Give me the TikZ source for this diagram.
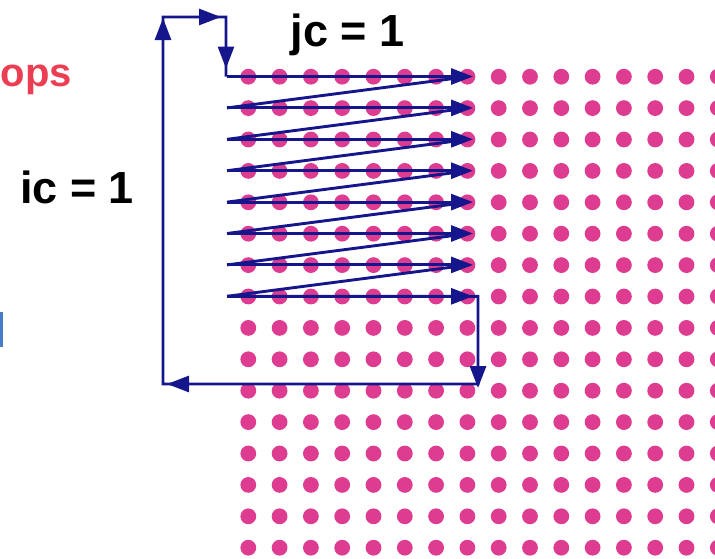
\documentclass[tikz,border=0pt]{standalone}
\usepackage{fontspec}
\setmainfont{Liberation Sans}
\usetikzlibrary{arrows.meta,calc}
\definecolor{dotpink}{RGB}{221,60,145}
\definecolor{navy}{RGB}{22,22,140}
\definecolor{loopred}{RGB}{236,62,82}
\definecolor{textblue}{RGB}{70,125,200}

\begin{document}
\begin{tikzpicture}[x=1pt,y=-1pt,
  trace/.style={draw=navy,line width=2.9pt,line join=miter},
  tip/.style={-{Triangle[length=22pt,width=16pt]}},
  label/.style={font=\bfseries\fontsize{45}{45}\selectfont,inner sep=0pt}]
\useasboundingbox (0,0) rectangle (715,558);

% array elements
\foreach \c in {0,...,15}
  \foreach \r in {0,...,15}
    \fill[dotpink] (248.3+31.3*\c,76.7+31.4*\r) circle (7.9);

% start and end of each traversed row
\foreach \r in {0,...,7} {
  \coordinate (rs\r) at (227,76.5+31.4*\r);
  \coordinate (re\r) at (473,76.5+31.4*\r);
}

% corners of the outer loop
\coordinate (E) at (478,296.3);
\coordinate (F) at (478,384);
\coordinate (A) at (163,384);
\coordinate (B) at (163,17);
\coordinate (C) at (226,17);
\coordinate (D) at (226,76.5);

% inner loop: rows and returns
\foreach \r in {0,...,7}
  \draw[trace,tip] (rs\r) -- (re\r);
\foreach \r [evaluate=\r as \n using int(\r+1)] in {0,...,6}
  \draw[trace] ($(re\r)+(-4,0)$) -- (rs\n);

% outer loop
\draw[trace] (rs7) -- (E) -- (F) -- (A) -- (B) -- (C) -- (D);
\draw[trace,tip] ($(F)+(0,-30)$) -- ($(F)+(0,4)$);
\draw[trace,tip] ($(A)+(30,0)$) -- ($(A)+(4,0)$);
\draw[trace,tip] ($(B)+(0,30)$) -- ($(B)+(0,1)$);
\draw[trace,tip] ($(C)+(-30,0)$) -- ($(C)+(-5,0)$);
\draw[trace,tip] ($(D)+(0,-30)$) -- ($(D)+(0,-8)$);

% labels
\node[label,anchor=base] (jc) at (347.5,46.5) {jc = 1};
\node[label,anchor=base] (ic) at (77,203) {ic = 1};
\node[label,font=\bfseries\fontsize{40}{40}\selectfont,text=loopred,anchor=base east] (loops) at (72,86) {ops};
\fill[textblue] (0,312) rectangle (3,347);
\end{tikzpicture}
\end{document}
